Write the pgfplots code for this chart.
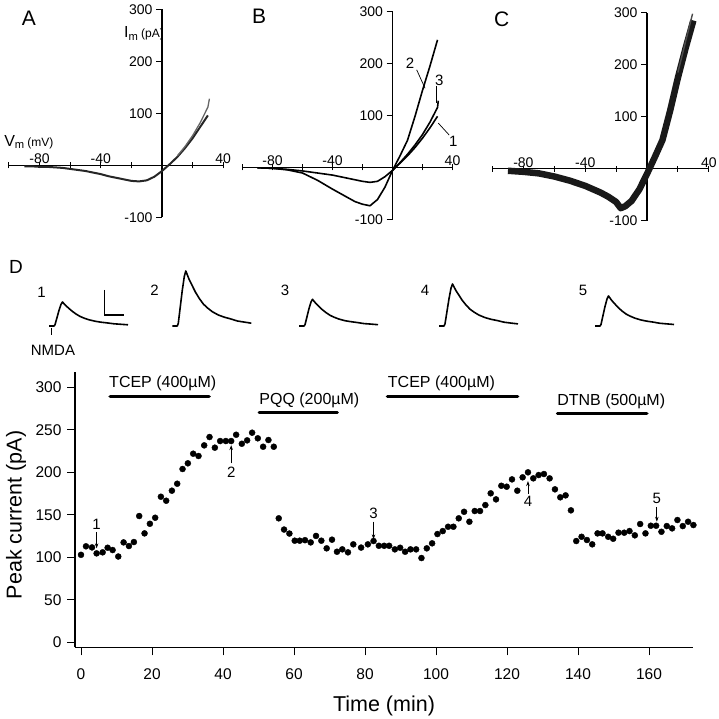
\documentclass[border=0pt]{standalone}
\usepackage{fontspec}
\setmainfont{Liberation Sans}
\usepackage{pgfplots}
\pgfplotsset{compat=1.18}
\usetikzlibrary{arrows.meta}

\pgfplotsset{
  iv/.style={
    anchor=south west, scale only axis, height=208pt,
    xmin=-100, xmax=40, ymin=-100, ymax=300,
    axis lines=middle, axis line style={line width=1.1pt,-},
    xtick={-100,-80,...,40}, xticklabels={,-80,,-40,,,,40},
    ytick={-100,100,200,300}, yticklabels={-100,100,200,300},
    xtick align=center, ytick align=outside,
    major tick length=6pt, tick style={line width=1pt,black},
    tick label style={font=\fontsize{14}{14}\selectfont},
    xticklabel style={anchor=south, yshift=1pt},
    yticklabel style={anchor=east, xshift=0pt},
    clip=false,
  },
  trace/.style={black, line width=1.6pt, line join=round},
}

\begin{document}
\begin{tikzpicture}[x=1pt,y=1pt]
\path[use as bounding box] (0,0) rectangle (718,719);
\coordinate (posA) at (9,501.7);
\coordinate (posB) at (242.5,499.7);
\coordinate (posC) at (492.5,498.3);
\coordinate (posD) at (0,359);
\coordinate (posM) at (75,71.6);

% ---------------- Panel A ----------------
\begin{axis}[iv, at={(posA)}, width=214.2pt]
\addplot[trace, line width=2pt, black!85] coordinates {
(-90,-2) (-85,-2) (-80,-3) (-75,-3) (-70,-4) (-65,-5) (-60,-7) (-55,-9) (-50,-11)
(-45,-14) (-40,-17) (-35,-21) (-30,-24) (-25,-27) (-20,-30) (-15,-31) (-10,-29)
(-5,-22) (0,-11) (5,2) (10,16) (15,33) (20,52) (25,74) (30,96)};
\addplot[trace, line width=1.3pt, black!60] coordinates {
(10,18) (15,36) (20,57) (25,82) (30,112) (31,128)};
\node[font=\fontsize{21}{21}\selectfont] at (axis cs:-87,283) {A};
\node[anchor=west] at (axis cs:-27,254) {\fontsize{16}{16}\selectfont I\textsubscript{m}\,{\fontsize{12}{12}\selectfont(pA)}};
\node at (axis cs:-87,45) {\fontsize{16}{16}\selectfont V\textsubscript{m}\,{\fontsize{12}{12}\selectfont(mV)}};
\end{axis}

% ---------------- Panel B ----------------
\begin{axis}[iv, at={(posB)}, width=210pt]
\addplot[trace] coordinates {
(-90,-1) (-80,-2) (-70,-4) (-60,-7) (-50,-11) (-40,-15) (-30,-21) (-20,-27)
(-15,-29) (-10,-27) (-5,-18) (0,-6) (5,8) (10,22) (15,38) (20,56) (25,76) (30,98)};
\addplot[trace] coordinates {
(0,-6) (5,9) (10,25) (15,43) (20,63) (25,87) (30,115) (30.5,128)};
\addplot[trace] coordinates {
(-90,-1) (-80,-2) (-70,-5) (-60,-11) (-50,-25) (-40,-42) (-30,-58) (-25,-66)
(-20,-71) (-15,-74) (-10,-62) (-5,-38) (0,-6) (5,22) (10,52) (15,98) (20,148)
(25,195) (30,245)};
\node[font=\fontsize{21}{21}\selectfont] at (axis cs:-89,290) {B};
\node[font=\fontsize{15}{15}\selectfont] at (axis cs:11.7,201) {2};
\draw[line width=0.7pt] (axis cs:16.1,187.5) -- (axis cs:21.7,152);
\node[font=\fontsize{15}{15}\selectfont] at (axis cs:31.2,168) {3};
\draw[line width=0.7pt] (axis cs:29.5,156.6) -- (axis cs:29.5,124);
\node[font=\fontsize{15}{15}\selectfont] at (axis cs:40.5,49.3) {1};
\draw[line width=0.7pt] (axis cs:37.8,62) -- (axis cs:30.5,85);
\end{axis}

% ---------------- Panel C ----------------
\begin{axis}[iv, at={(posC)}, width=216.3pt]
\addplot[trace, line width=6.5pt, black!90] coordinates {
(-90,-4) (-85,-5) (-80,-6) (-70,-9) (-60,-15) (-50,-23) (-40,-33) (-30,-46)
(-25,-54) (-20,-64) (-17,-76) (-14,-72) (-10,-62) (-5,-40) (0,-10) (5,22)
(10,55) (15,112) (20,175) (25,232) (30,285)};
\addplot[trace, line width=1.4pt, black!70] coordinates {
(20,185) (25,245) (29.5,298)};
\node[font=\fontsize{21}{21}\selectfont] at (axis cs:-94,288) {C};
\end{axis}

% ---------------- Panel D (traces) ----------------
\begin{axis}[at={(posD)}, anchor=south west, scale only axis,
  width=718pt, height=100pt, xmin=0, xmax=718, ymin=359, ymax=459,
  axis lines=none, clip=false]
\addplot[trace] coordinates {
(49,393) (54,393) (55,394.2) (57,401.4) (59,408.6) (61,414.6) (62.5,417) (64,415.3)
(66,413.2) (69,410.5) (72,407.9) (76,405) (80,402.6) (84,400.9) (89,399.2) (95,397.8)
(101,396.8) (107,396.1) (114,395.2) (121,394.7) (128,394.2)};
\addplot[trace] coordinates {
(172.3,393) (177.3,393) (178.3,395.8) (180.3,412.3) (182.3,428.8) (184.3,442.5)
(185.8,448) (187.3,444.2) (189.3,439.2) (192.3,433.2) (195.3,427.1) (199.3,420.5)
(203.3,415) (207.3,411.2) (212.3,407.3) (218.3,404) (224.3,401.8) (230.3,400.2)
(237.3,398) (244.3,396.9) (251.3,395.8)};
\addplot[trace] coordinates {
(299,393) (304,393) (305,394.3) (307,402.3) (309,410.4) (311,417) (312.5,419.7)
(314,417.8) (316,415.4) (319,412.5) (322,409.6) (326,406.4) (330,403.7) (334,401.8)
(339,399.9) (345,398.3) (351,397.3) (357,396.5) (364,395.4) (371,394.9) (378,394.3)};
\addplot[trace] coordinates {
(439,393) (444,393) (445,395.1) (447,407.7) (449,420.3) (451,430.8) (452.5,435)
(454,432.1) (456,428.3) (459,423.7) (462,419) (466,414) (470,409.8) (474,406.9)
(479,403.9) (485,401.4) (491,399.7) (497,398.5) (504,396.8) (511,395.9) (518,395.1)};
\addplot[trace] coordinates {
(595,393) (600,393) (601,394.5) (603,403.5) (605,412.5) (607,420) (608.5,423)
(610,420.9) (612,418.2) (615,414.9) (618,411.6) (622,408) (626,405) (630,402.9)
(635,400.8) (641,399) (647,397.8) (653,396.9) (660,395.7) (667,395.1) (674,394.5)};
% scale bar
\addplot[black, line width=1.6pt] coordinates {(104.5,429) (104.5,404) (124,404)};
% NMDA marker
\addplot[black, line width=0.7pt] coordinates {(51.5,391) (51.5,384)};
\node[font=\fontsize{19}{19}\selectfont] at (axis cs:16,452) {D};
\node[font=\fontsize{15}{15}\selectfont] at (axis cs:41.5,427) {1};
\node[font=\fontsize{15}{15}\selectfont] at (axis cs:154.5,429) {2};
\node[font=\fontsize{15}{15}\selectfont] at (axis cs:285,429) {3};
\node[font=\fontsize{15}{15}\selectfont] at (axis cs:425,429) {4};
\node[font=\fontsize{15}{15}\selectfont] at (axis cs:583,429) {5};
\node[font=\fontsize{15}{15}\selectfont] at (axis cs:53,369) {NMDA};
\end{axis}

% ---------------- Main time course ----------------
\begin{axis}[at={(posM)}, anchor=south west, scale only axis,
  width=618.4pt, height=275.4pt,
  xmin=-1.69, xmax=172.5, ymin=-5.9, ymax=318,
  axis x line*=bottom, axis y line*=left,
  axis line style={line width=1.1pt,-},
  tick align=outside, major tick length=8pt, tick style={line width=1pt,black},
  xtick={0,20,...,160}, ytick={0,50,...,300},
  /pgf/number format/assume math mode=true,
  tick label style={font=\fontsize{15.5}{15.5}\selectfont},
  xticklabel style={yshift=-10pt},
  yticklabel style={xshift=-2pt},
  xlabel={Time (min)}, ylabel={Peak current (pA)},
  label style={font=\fontsize{21.5}{21.5}\selectfont},
  xlabel style={at={(axis description cs:0.4997,-0.212)}, anchor=center},
  ylabel style={at={(axis description cs:-0.0954,0.481)}, anchor=center},
  clip=false]
\addplot[only marks, mark=*, mark size=3pt, black] coordinates {
(0,103) (1.4,113) (3.1,111.7) (4.4,104.7) (6.1,105.9) (7.5,111.3) (8.9,108.6)
(10.5,101) (12.0,117.6) (13.5,113.3) (14.9,118) (16.4,148.6) (17.9,128.2)
(19.4,139.5) (20.9,146.6) (22.5,171.3) (24.0,166.6) (25.6,178.4) (27.1,186.6)
(28.6,203.9) (30.1,210.6) (31.6,221.9) (33.1,219.2) (34.7,231.7) (36.2,241.5)
(37.7,229) (39.2,236.8) (40.8,236.8) (42.3,236.8) (43.7,244.2) (45.3,233.6)
(46.8,237.6) (48.2,246.6) (49.8,240) (51.3,230.1) (52.8,238) (54.3,230.1)
(55.7,145.9) (57.2,132.7) (58.7,128) (60.2,119.6) (61.6,119.6) (63.1,120.2)
(64.7,117.6) (66.2,125.2) (67.7,119.6) (69.2,110.6) (70.7,120.8) (72.1,106.6)
(73.6,109.4) (75.2,105.9) (76.7,115.3) (78.9,111.5) (80.8,115.3) (82.4,119.2)
(83.9,113.6) (85.4,113.6) (86.8,113.6) (88.4,109.4) (89.9,111.3) (91.3,106.6)
(92.8,109.4) (94.4,109.4) (95.9,99.2) (97.4,110.6) (98.9,116.5) (100.4,127.4)
(101.9,130.9) (103.4,136) (104.9,136) (106.4,145.9) (107.9,153.6) (109.4,141.9)
(110.9,154.5) (112.4,154.5) (113.9,161.5) (115.4,175.3) (116.9,168.2)
(118.4,184.2) (119.9,183.1) (121.4,191.7) (122.9,178.4) (124.4,194.1)
(125.9,200) (127.4,192.9) (128.9,196.8) (130.4,198) (132.0,192.9) (133.5,180)
(135.0,170.6) (136.5,172.9) (138.0,155.3) (139.5,119.2) (141.0,124.2)
(142.5,120.4) (144.0,115.3) (145.5,128.2) (146.9,128.2) (148.5,124.2)
(149.9,121.9) (151.4,129) (153.0,129) (154.5,130.9) (156.0,125.9) (157.5,139.2)
(159.0,128.2) (160.5,137.2) (162.0,137.2) (163.5,130.1) (165.0,136.8)
(166.5,134.1) (168.0,143.9) (169.5,136.8) (171.0,141.9) (172.5,138)};
% drug application bars
\addplot[black, line width=3.3pt, line cap=round] coordinates {(8.2,289) (36.1,289)};
\addplot[black, line width=3.3pt, line cap=round] coordinates {(50.2,270) (72.2,270)};
\addplot[black, line width=3.3pt, line cap=round] coordinates {(86.3,289) (123,289)};
\addplot[black, line width=3.3pt, line cap=round] coordinates {(134.2,269.4) (159.4,269.4)};
\node[anchor=west, inner sep=0pt, font=\fontsize{16}{16}\selectfont] at (axis cs:7.9,304.7) {TCEP (400µM)};
\node[anchor=west, inner sep=0pt, font=\fontsize{16}{16}\selectfont] at (axis cs:50.2,284.2) {PQQ (200µM)};
\node[anchor=west, inner sep=0pt, font=\fontsize{16}{16}\selectfont] at (axis cs:86.4,304.7) {TCEP (400µM)};
\node[anchor=west, inner sep=0pt, font=\fontsize{16}{16}\selectfont] at (axis cs:134.1,283) {DTNB (500µM)};
% arrows
\draw[line width=0.7pt, -{Stealth[length=5pt,width=3.5pt]}] (axis cs:4.4,130) -- (axis cs:4.4,110.6);
\node[font=\fontsize{15}{15}\selectfont] at (axis cs:4.4,138.4) {1};
\draw[line width=0.7pt, -{Stealth[length=5pt,width=3.5pt]}] (axis cs:42.3,210.6) -- (axis cs:42.3,232);
\node[font=\fontsize{15}{15}\selectfont] at (axis cs:42.3,199.8) {2};
\draw[line width=0.7pt, -{Stealth[length=5pt,width=3.5pt]}] (axis cs:82.4,141.9) -- (axis cs:82.4,121.2);
\node[font=\fontsize{15}{15}\selectfont] at (axis cs:82.4,151.3) {3};
\draw[line width=0.7pt, -{Stealth[length=5pt,width=3.5pt]}] (axis cs:125.9,174.5) -- (axis cs:125.9,189.8);
\node[font=\fontsize{15}{15}\selectfont] at (axis cs:125.9,165.4) {4};
\draw[line width=0.7pt, -{Stealth[length=5pt,width=3.5pt]}] (axis cs:162.2,159.5) -- (axis cs:162.2,141.9);
\node[font=\fontsize{15}{15}\selectfont] at (axis cs:162.2,169) {5};
\end{axis}
\end{tikzpicture}
\end{document}
